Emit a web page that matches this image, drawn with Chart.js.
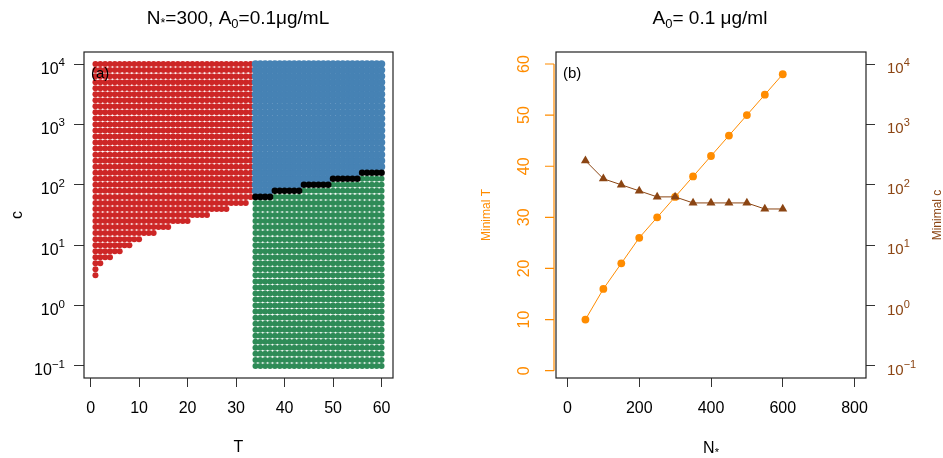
<!DOCTYPE html>
<html><head><meta charset="utf-8">
<script src="https://cdn.jsdelivr.net/npm/chart.js@4.4.1/dist/chart.umd.min.js"></script>
<style>
html,body{margin:0;padding:0;background:#fff;}
#wrap{position:relative;width:943px;height:458px;overflow:hidden;background:#fff;}
canvas{position:absolute;top:0;}
#c1{left:0;} #c2{left:470px;}
</style></head><body>
<div id="wrap"><canvas id="c1" width="470" height="458"></canvas><canvas id="c2" width="473" height="458"></canvas></div>
<script>
// ---------------- data ----------------
// panel (a): grid of c values (log10 exponents) and T values
const C_EXPONENTS = [-1.0,-0.9,-0.8,-0.7,-0.6,-0.5,-0.4,-0.3,-0.2,-0.1,
  0.0,0.1,0.2,0.3,0.4,0.5,0.6,0.7,0.8,0.9,
  1.0,1.1,1.2,1.3,1.4,1.5,1.6,1.7,1.8,1.9,
  2.0,2.1,2.2,2.3,2.4,2.5,2.6,2.7,2.8,2.9,
  3.0,3.1,3.2,3.3,3.4,3.5,3.6,3.7,3.8,3.9,4.0];
// red region: T values and the lowest c exponent that is red for each T
const RED_T = [1,2,3,4,5,6,7,8,9,10,11,12,13,14,15,16,17,18,19,20,21,22,23,24,25,26,27,28,29,30,31,32,33];
const RED_MIN_EXP = [0.5,0.7,0.8,0.8,0.9,0.9,1.0,1.0,1.1,1.1,1.2,1.2,1.2,1.3,1.3,1.3,
  1.4,1.4,1.4,1.4,1.5,1.5,1.5,1.5,1.6,1.6,1.6,1.6,1.7,1.7,1.7,1.7,1.8];
// right region: T values and c exponent of the black boundary (green below, blue above)
const SPLIT_T = [34,35,36,37,38,39,40,41,42,43,44,45,46,47,48,49,50,51,52,53,54,55,56,57,58,59,60];
const SPLIT_EXP = [1.8,1.8,1.8,1.8,1.9,1.9,1.9,1.9,1.9,1.9,2.0,2.0,2.0,2.0,2.0,2.0,
  2.1,2.1,2.1,2.1,2.1,2.1,2.2,2.2,2.2,2.2,2.2];
const X_TICKS_A = [0,10,20,30,40,50,60];
const LOG_TICK_EXP = [-1,0,1,2,3,4];

// panel (b)
const N_STAR = [50,100,150,200,250,300,350,400,450,500,550,600];
const MIN_T = [10,16,21,26,30,34,38,42,46,50,54,58];
const MIN_C = [251,126,100,79.4,63.1,63.1,50.1,50.1,50.1,50.1,39.8,39.8];
const X_TICKS_B = [0,200,400,600,800];
const Y_TICKS_T = [0,10,20,30,40,50,60];

// ---------------- helpers ----------------
const FONT = '"Liberation Sans", Arial, Helvetica, sans-serif';
const ORANGE = '#FF8C00', BROWN = '#8B4513';
const tenth = e => Math.round(e * 10);

const red = [], green = [], blue = [], black = [];
RED_T.forEach((t, i) => {
  C_EXPONENTS.forEach(e => { if (tenth(e) >= tenth(RED_MIN_EXP[i])) red.push({x: t, y: Math.pow(10, e)}); });
});
SPLIT_T.forEach((t, i) => {
  const b = tenth(SPLIT_EXP[i]);
  C_EXPONENTS.forEach(e => {
    const k = tenth(e), p = {x: t, y: Math.pow(10, e)};
    if (k < b) green.push(p); else if (k === b) black.push(p); else blue.push(p);
  });
});

function drawRich(ctx, segs, x0, baseline, align, color) {
  let total = 0;
  segs.forEach(s => { ctx.font = s[1] + 'px ' + FONT; s.w = ctx.measureText(s[0]).width; total += s.w; });
  let x = align === 'center' ? x0 - total / 2 : align === 'right' ? x0 - total : x0;
  ctx.save();
  ctx.fillStyle = color || '#000';
  ctx.textAlign = 'left'; ctx.textBaseline = 'alphabetic';
  segs.forEach(s => { ctx.font = s[1] + 'px ' + FONT; ctx.fillText(s[0], x, baseline + s[2]); x += s.w; });
  ctx.restore();
}
function expLabel(e) { return e < 0 ? '\u2212' + Math.abs(e) : String(e); }
function logTicks(scale) { scale.ticks = LOG_TICK_EXP.map(e => ({value: Math.pow(10, e)})); }

const framePlugin = {
  id: 'frame',
  afterDraw(chart) {
    const {ctx, chartArea: a} = chart;
    ctx.save();
    ctx.strokeStyle = '#222'; ctx.lineWidth = 1.2;
    ctx.strokeRect(a.left, a.top, a.right - a.left, a.bottom - a.top);
    ctx.restore();
  }
};

// ---------------- panel (a) ----------------
const panelA = {
  id: 'panelA',
  afterDraw(chart) {
    const ctx = chart.ctx, y = chart.scales.y;
    LOG_TICK_EXP.forEach(e => {
      const py = y.getPixelForValue(Math.pow(10, e));
      drawRich(ctx, [['10', 16, 0], [expLabel(e), 11.5, -7.5]], 65, py + 9.5, 'right');
    });
    drawRich(ctx, [['N', 19, 0], ['*', 12.5, 3], ['=300, A', 19, 0], ['0', 13, 4], ['=0.1\u03bcg/mL', 19, 0]], 238, 24, 'center');
    ctx.save(); ctx.font = '15px ' + FONT; ctx.fillStyle = '#000'; ctx.textBaseline = 'middle';
    ctx.fillText('(a)', 91, 74); ctx.restore();
  }
};

new Chart(document.getElementById('c1'), {
  type: 'scatter',
  data: {datasets: [
    {data: black, backgroundColor: '#000000', pointRadius: 3.3, pointBorderWidth: 0, order: 1},
    {data: blue, backgroundColor: '#4682B4', pointRadius: 3.7, pointBorderWidth: 0, order: 2},
    {data: green, backgroundColor: '#2E8B57', pointRadius: 3.0, pointBorderWidth: 0, order: 3},
    {data: red, backgroundColor: '#CD2626', pointRadius: 3.0, pointBorderWidth: 0, order: 4}
  ]},
  options: {
    responsive: false, animation: false, devicePixelRatio: 1,
    events: [],
    layout: {padding: {top: 52, right: 77, left: 0, bottom: 0}},
    plugins: {legend: {display: false}, tooltip: {enabled: false}},
    scales: {
      x: {type: 'linear', min: -1.36, max: 62.36,
        afterBuildTicks: s => { s.ticks = X_TICKS_A.map(v => ({value: v})); },
        afterFit: s => { s.height = 80; },
        grid: {drawOnChartArea: false, tickLength: 9, color: '#333', lineWidth: 1},
        border: {display: false},
        ticks: {color: '#000', font: {family: FONT, size: 16}, padding: 12, maxRotation: 0, autoSkip: false},
        title: {display: true, text: 'T', color: '#000', font: {family: FONT, size: 16}, padding: {top: 0, bottom: 0.5}}
      },
      y: {type: 'logarithmic', min: Math.pow(10, -1.2), max: Math.pow(10, 4.2),
        afterBuildTicks: logTicks,
        afterFit: s => { s.width = 84; },
        grid: {drawOnChartArea: false, tickLength: 10, color: '#333', lineWidth: 1},
        border: {display: false},
        ticks: {display: false},
        title: {display: true, text: 'c', color: '#000', font: {family: FONT, size: 16}, padding: {top: 8, bottom: 0}}
      }
    }
  },
  plugins: [framePlugin, panelA]
});

// ---------------- panel (b) ----------------
const panelB = {
  id: 'panelB',
  afterDraw(chart) {
    const ctx = chart.ctx, a = chart.chartArea, yT = chart.scales.yT, yC = chart.scales.yC;
    // orange left axis
    const ax = a.left - 2;
    const y0 = yT.getPixelForValue(Y_TICKS_T[0]), y1 = yT.getPixelForValue(Y_TICKS_T[Y_TICKS_T.length - 1]);
    ctx.save();
    ctx.strokeStyle = ORANGE; ctx.lineWidth = 1.2;
    ctx.beginPath(); ctx.moveTo(ax, y0); ctx.lineTo(ax, y1);
    Y_TICKS_T.forEach(v => { const py = yT.getPixelForValue(v); ctx.moveTo(ax, py); ctx.lineTo(ax - 9, py); });
    ctx.stroke();
    ctx.fillStyle = ORANGE; ctx.font = '16px ' + FONT; ctx.textAlign = 'center'; ctx.textBaseline = 'middle';
    Y_TICKS_T.forEach(v => {
      const py = yT.getPixelForValue(v);
      ctx.save(); ctx.translate(55, py); ctx.rotate(-Math.PI / 2); ctx.fillText(String(v), 0, 0); ctx.restore();
    });
    ctx.font = '12px ' + FONT;
    ctx.save(); ctx.translate(17, (a.top + a.bottom) / 2); ctx.rotate(-Math.PI / 2); ctx.fillText('Minimal T', 0, 0); ctx.restore();
    ctx.fillStyle = BROWN;
    ctx.save(); ctx.translate(468, (a.top + a.bottom) / 2); ctx.rotate(-Math.PI / 2); ctx.fillText('Minimal c', 0, 0); ctx.restore();
    ctx.restore();
    // right log labels
    LOG_TICK_EXP.forEach(e => {
      const py = yC.getPixelForValue(Math.pow(10, e));
      drawRich(ctx, [['10', 15, 0], [expLabel(e), 11, -7]], 417, py + 9, 'left', BROWN);
    });
    drawRich(ctx, [['A', 19, 0], ['0', 13, 4], ['= 0.1 \u03bcg/ml', 19, 0]], 240, 24, 'center');
    drawRich(ctx, [['N', 16, 0], ['*', 11, 3]], (a.left + a.right) / 2, 453, 'center');
    ctx.save(); ctx.font = '15px ' + FONT; ctx.fillStyle = '#000'; ctx.textBaseline = 'middle';
    ctx.fillText('(b)', 93, 74); ctx.restore();
  }
};

new Chart(document.getElementById('c2'), {
  type: 'scatter',
  data: {datasets: [
    {data: N_STAR.map((n, i) => ({x: n, y: MIN_C[i]})), yAxisID: 'yC', showLine: true,
     borderColor: BROWN, backgroundColor: BROWN, borderWidth: 1, pointStyle: 'triangle',
     pointRadius: 5.2, pointBorderWidth: 0, order: 1},
    {data: N_STAR.map((n, i) => ({x: n, y: MIN_T[i]})), yAxisID: 'yT', showLine: true,
     borderColor: ORANGE, backgroundColor: ORANGE, borderWidth: 1, pointStyle: 'circle',
     pointRadius: 3.9, pointBorderWidth: 0, order: 2}
  ]},
  options: {
    responsive: false, animation: false, devicePixelRatio: 1,
    events: [],
    layout: {padding: {top: 52, right: 0, left: 0, bottom: 0}},
    plugins: {legend: {display: false}, tooltip: {enabled: false}},
    scales: {
      x: {type: 'linear', min: -32, max: 832,
        afterBuildTicks: s => { s.ticks = X_TICKS_B.map(v => ({value: v})); },
        afterFit: s => { s.height = 80; },
        grid: {drawOnChartArea: false, tickLength: 9, color: '#333', lineWidth: 1},
        border: {display: false},
        ticks: {color: '#000', font: {family: FONT, size: 16}, padding: 12, maxRotation: 0, autoSkip: false}
      },
      yT: {type: 'linear', position: 'left', min: -1.43, max: 62.35,
        afterBuildTicks: s => { s.ticks = Y_TICKS_T.map(v => ({value: v})); },
        afterFit: s => { s.width = 86; },
        grid: {display: false}, border: {display: false}, ticks: {display: false}
      },
      yC: {type: 'logarithmic', position: 'right', min: Math.pow(10, -1.2), max: Math.pow(10, 4.2),
        afterBuildTicks: logTicks,
        afterFit: s => { s.width = 77; },
        grid: {drawOnChartArea: false, tickLength: 9, color: '#333', lineWidth: 1},
        border: {display: false}, ticks: {display: false}
      }
    }
  },
  plugins: [framePlugin, panelB]
});
</script>
</body></html>
